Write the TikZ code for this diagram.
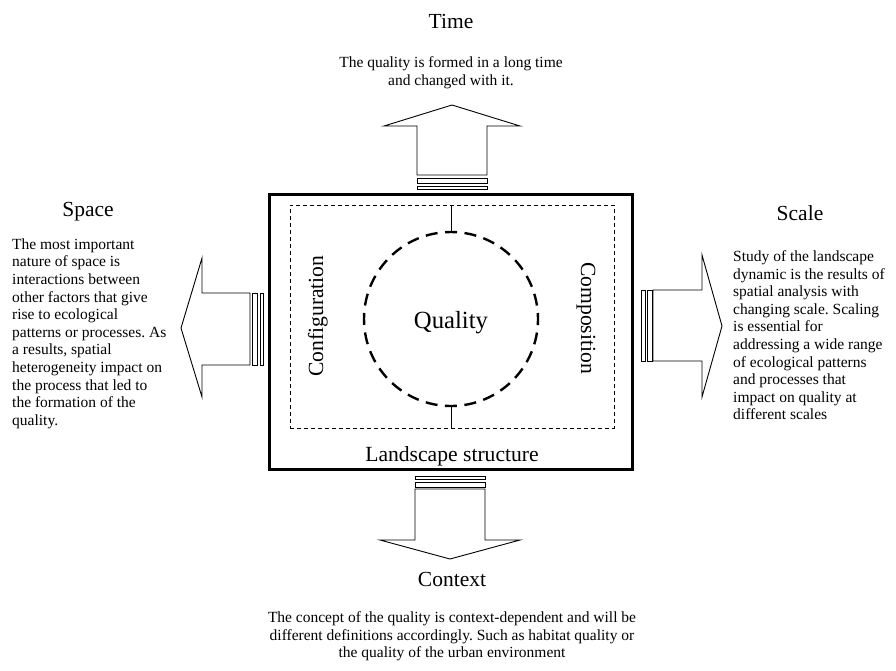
\documentclass[tikz,border=0pt]{standalone}
\usepackage{fontspec}
\setmainfont{Liberation Serif}
\frenchspacing
\begin{document}
\begin{tikzpicture}[x=1pt,y=-1pt,
  blk/.style={draw=black, line width=0.9pt, fill=white, line join=miter},
  body/.style={font=\fontsize{15.5}{17.6}\selectfont, inner sep=0pt},
  head/.style={font=\fontsize{21.5}{24}\selectfont, inner sep=0pt},
  lbl/.style={font=\fontsize{21.6}{24}\selectfont, inner sep=0pt}]
\useasboundingbox (0,0) rectangle (896,670);

% central boxes
\node[draw, line width=3pt, minimum width=363pt, minimum height=275pt, inner sep=0pt] (outer) at (450.5,331.5) {};
\node[draw, line width=0.8pt, dash pattern=on 4pt off 3pt, minimum width=324pt, minimum height=223pt, inner sep=0pt] (inner) at (452,316.5) {};
\node[draw, circle, line width=2.4pt, dash pattern=on 12pt off 7.52pt, dash phase=6pt, minimum size=174pt, inner sep=0pt] (circ) at (451,319) {};
\draw[line width=0.9pt] (circ.north |- inner.north) -- (circ.north);
\draw[line width=0.9pt] (circ.south) -- (circ.south |- inner.south);

\node[font=\fontsize{24.7}{28}\selectfont, inner sep=0pt, anchor=base] (quality) at (451,328) {Quality};
\node[lbl, anchor=base] (ls) at (452,461) {Landscape structure};
\node[lbl, anchor=base, rotate=90] (config) at (323,316) {Configuration};
\node[lbl, anchor=base, rotate=-90] (compo) at (581,318) {Composition};

% top arrow
\draw[blk] (417,175) -- (417,126) -- (384,126) -- (452,105) -- (520,126) -- (487,126) -- (487,175) -- cycle;
\draw[blk] (417,178) rectangle (487,183);
\draw[blk] (417,186) rectangle (487,189);

% bottom arrow
\draw[blk] (415,476) rectangle (485,479);
\draw[blk] (415,482) rectangle (485,487);
\draw[blk] (415,489) -- (415,540) -- (380,540) -- (450,559) -- (520,540) -- (485,540) -- (485,489) -- cycle;

% left arrow
\draw[blk] (252,293) rectangle (257,365);
\draw[blk] (260,293) rectangle (263,365);
\draw[blk] (250,293) -- (202,293) -- (202,258) -- (181,328) -- (202,397) -- (202,365) -- (250,365) -- cycle;

% right arrow
\draw[blk] (641,290) rectangle (645,361);
\draw[blk] (647,290) rectangle (652,361);
\draw[blk] (653,290) -- (702,290) -- (702,255) -- (722,326) -- (702,397) -- (702,361) -- (653,361) -- cycle;

% texts
\node[head, anchor=base] (time) at (451,28) {Time};
\node[body, align=center, anchor=north] (timed) at (451,56.4) {The quality is formed in a long time\\and changed with it.};

\node[head, anchor=base] (space) at (88,216) {Space};
\node[body, align=left, anchor=north west] (spaced) at (12,238.4) {The most important\\nature of space is\\interactions between\\other factors that give\\rise to ecological\\patterns or processes. As\\a results, spatial\\heterogeneity impact on\\the process that led to\\the formation of the\\quality.};

\node[head, anchor=base] (scale) at (800,220) {Scale};
\node[body, align=left, anchor=north west] (scaled) at (733,250.4) {Study of the landscape\\dynamic is the results of\\spatial analysis with\\changing scale. Scaling\\is essential for\\addressing a wide range\\of ecological patterns\\and processes that\\impact on quality at\\different scales};

\node[head, anchor=base] (context) at (452,586) {Context};
\node[body, align=center, anchor=north] (contextd) at (452,611.4) {The concept of the quality is context-dependent and will be\\different definitions accordingly. Such as habitat quality or\\the quality of the urban environment};
\end{tikzpicture}
\end{document}
